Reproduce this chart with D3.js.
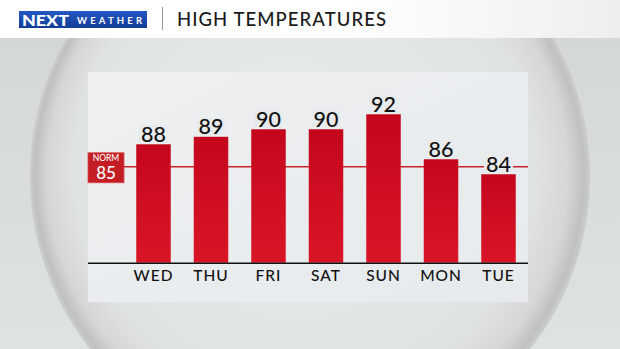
<!DOCTYPE html>
<html>
<head>
<meta charset="utf-8">
<script src="https://cdn.jsdelivr.net/npm/d3@7"></script>
<style>
  html, body { margin: 0; padding: 0; background: #d6dadb; }
  svg { display: block; font-family: Lato, "Open Sans", sans-serif; }
</style>
</head>
<body>
<script>
// chart data
const days = ["WED", "THU", "FRI", "SAT", "SUN", "MON", "TUE"];
const highs = [88, 89, 90, 90, 92, 86, 84];
const normal = 85;
const title = "HIGH TEMPERATURES";

const w = 620, h = 349;
const panel = { x0: 88, x1: 528, y0: 72, y1: 302 };

const svg = d3.select("body").append("svg")
  .attr("width", w)
  .attr("height", h);

const defs = svg.append("defs");

// background gradient
const bg = defs.append("linearGradient").attr("id", "bg")
  .attr("x1", 0).attr("y1", 0).attr("x2", 0).attr("y2", 1);
bg.append("stop").attr("offset", 0).attr("stop-color", "#d3d6d7");
bg.append("stop").attr("offset", 1).attr("stop-color", "#dde2e3");

// bubble shading, rim darker toward lower right
const bub = defs.append("radialGradient").attr("id", "bubble")
  .attr("cx", 0.5).attr("cy", 0.5).attr("r", 0.5)
  .attr("fx", 0.44).attr("fy", 0.42);
bub.append("stop").attr("offset", 0).attr("stop-color", "#e7eaeb");
bub.append("stop").attr("offset", 0.82).attr("stop-color", "#e0e3e4");
bub.append("stop").attr("offset", 0.93).attr("stop-color", "#d4d6d7");
bub.append("stop").attr("offset", 0.98).attr("stop-color", "#bfc0c1");
bub.append("stop").attr("offset", 1).attr("stop-color", "#cbcdce");

const panelGrad = defs.append("linearGradient").attr("id", "panel")
  .attr("x1", 0).attr("y1", 0).attr("x2", 1).attr("y2", 1);
panelGrad.append("stop").attr("offset", 0).attr("stop-color", "#eef0f1");
panelGrad.append("stop").attr("offset", 1).attr("stop-color", "#e6eaec");

const barGrad = defs.append("linearGradient").attr("id", "bar")
  .attr("x1", 0).attr("y1", 0).attr("x2", 0).attr("y2", 1);
barGrad.append("stop").attr("offset", 0).attr("stop-color", "#c4061d");
barGrad.append("stop").attr("offset", 1).attr("stop-color", "#d91626");

const headGrad = defs.append("linearGradient").attr("id", "head")
  .attr("x1", 0).attr("y1", 0).attr("x2", 1).attr("y2", 0);
headGrad.append("stop").attr("offset", 0.55).attr("stop-color", "#ffffff");
headGrad.append("stop").attr("offset", 1).attr("stop-color", "#eeeeef");

const logoGrad = defs.append("linearGradient").attr("id", "logo")
  .attr("x1", 0).attr("y1", 0).attr("x2", 0).attr("y2", 1);
logoGrad.append("stop").attr("offset", 0).attr("stop-color", "#2458c4");
logoGrad.append("stop").attr("offset", 1).attr("stop-color", "#123d96");

svg.append("rect").attr("width", w).attr("height", h).attr("fill", "url(#bg)");
svg.append("circle").attr("cx", 310).attr("cy", 176).attr("r", 280)
  .attr("fill", "url(#bubble)");

// header
svg.append("rect").attr("width", w).attr("height", 38).attr("fill", "url(#head)");
svg.append("rect").attr("x", 19).attr("y", 11).attr("width", 128).attr("height", 17)
  .attr("fill", "url(#logo)");
svg.append("text").attr("x", 22).attr("y", 25.5)
  .attr("fill", "#fff").attr("font-size", 15).attr("font-weight", 900)
  .attr("textLength", 47).attr("lengthAdjust", "spacingAndGlyphs")
  .text("NEXT");
svg.append("text").attr("x", 77).attr("y", 24)
  .attr("fill", "#fff").attr("font-size", 9.5).attr("font-weight", 700)
  .attr("textLength", 65).attr("lengthAdjust", "spacing")
  .text("WEATHER");
svg.append("line").attr("x1", 162.5).attr("x2", 162.5).attr("y1", 7).attr("y2", 30)
  .attr("stroke", "#9a9a9a").attr("stroke-width", 1);
svg.append("text").attr("x", 177).attr("y", 26)
  .attr("fill", "#1a1a1a").attr("font-size", 18.5).attr("font-weight", 500)
  .attr("textLength", 209).attr("lengthAdjust", "spacing")
  .text(title);

// chart panel
svg.append("rect")
  .attr("x", panel.x0).attr("y", panel.y0)
  .attr("width", panel.x1 - panel.x0).attr("height", panel.y1 - panel.y0)
  .attr("fill", "url(#panel)");

const x = d3.scaleBand()
  .domain(days)
  .range([124.75, 527.25])
  .paddingInner(0.4)
  .paddingOuter(0.2);

const y = d3.scaleLinear()
  .domain([72.2, 92])
  .range([262.7, 114.3]);

// normal line
svg.append("line")
  .attr("x1", 124).attr("x2", panel.x1)
  .attr("y1", y(normal)).attr("y2", y(normal))
  .attr("stroke", "#c8242c").attr("stroke-width", 1.5);

// bars
svg.selectAll("rect.bar")
  .data(highs)
  .enter()
  .append("rect")
  .attr("class", "bar")
  .attr("x", (d, i) => x(days[i]))
  .attr("y", d => y(d))
  .attr("width", x.bandwidth())
  .attr("height", d => y.range()[0] - y(d))
  .attr("fill", "url(#bar)");

// value labels with a panel-coloured backing
const labels = svg.selectAll("g.val")
  .data(highs)
  .enter()
  .append("g")
  .attr("class", "val");

labels.append("rect")
  .attr("x", (d, i) => x(days[i]) + x.bandwidth() / 2 - 14.5)
  .attr("y", d => y(d) - 19)
  .attr("width", 29)
  .attr("height", 17)
  .attr("fill", "#e8ebed");

labels.append("text")
  .attr("x", (d, i) => x(days[i]) + x.bandwidth() / 2)
  .attr("y", d => y(d) - 2.5)
  .attr("text-anchor", "middle")
  .attr("font-size", 21.5)
  .attr("font-weight", 500)
  .attr("fill", "#111")
  .text(d => d);

// axis
const xAxis = d3.axisBottom(x).tickSize(0).tickPadding(7);
const gx = svg.append("g")
  .attr("transform", "translate(0," + y.range()[0] + ")")
  .call(xAxis);
gx.select(".domain").remove();
gx.selectAll("text")
  .attr("font-size", 15.5)
  .attr("font-family", "Lato, sans-serif")
  .attr("font-weight", 500)
  .attr("letter-spacing", 1)
  .attr("fill", "#111");

svg.append("line")
  .attr("x1", panel.x0).attr("x2", panel.x1)
  .attr("y1", y.range()[0] + 0.5).attr("y2", y.range()[0] + 0.5)
  .attr("stroke", "#111").attr("stroke-width", 1.5);

// norm box
svg.append("rect")
  .attr("x", 88).attr("y", y(normal) - 14)
  .attr("width", 36).attr("height", 30)
  .attr("fill", "#c41d24")
  .attr("stroke", "#d84a4f").attr("stroke-width", 0.8);
svg.append("text")
  .attr("x", 106).attr("y", y(normal) - 5.5)
  .attr("text-anchor", "middle")
  .attr("font-size", 8.5).attr("font-weight", 500)
  .attr("fill", "#fff")
  .text("NORM");
svg.append("text")
  .attr("x", 106).attr("y", y(normal) + 12)
  .attr("text-anchor", "middle")
  .attr("font-size", 17).attr("font-weight", 500)
  .attr("fill", "#fff")
  .text(normal);
</script>
</body>
</html>
